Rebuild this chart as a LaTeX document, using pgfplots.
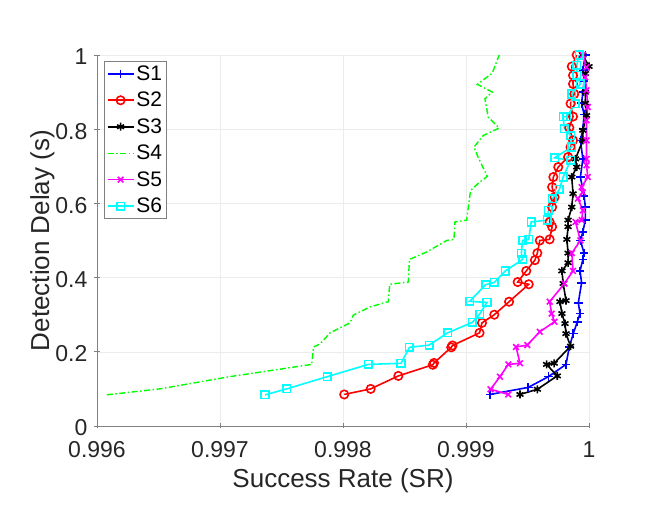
\documentclass[border=0pt]{standalone}
\usepackage{fontspec}
\setmainfont{Liberation Sans}
\usepackage{pgfplots}
\pgfplotsset{compat=1.18}
\definecolor{axgray}{RGB}{128,128,128}
\definecolor{txtgray}{RGB}{38,38,38}
\definecolor{mblue}{RGB}{0,0,255}
\definecolor{mred}{RGB}{255,0,0}
\definecolor{mgreen}{RGB}{0,255,0}
\definecolor{mmag}{RGB}{255,0,255}
\definecolor{mcyan}{RGB}{0,255,255}
\begin{document}
\begin{tikzpicture}
\path[use as bounding box] (0,0) rectangle (664pt,513pt);
\begin{axis}[
 at={(97pt,87pt)}, anchor=south west,
 width=492pt, height=371pt, scale only axis,
 xmin=0.996, xmax=1, ymin=0, ymax=1,
 xtick={0.996,0.997,0.998,0.999,1}, xticklabels={0.996,0.997,0.998,0.999,1},
 ytick={0,0.2,0.4,0.6,0.8,1}, yticklabels={0,0.2,0.4,0.6,0.8,1},
 scaled x ticks=false,
 axis lines=left, axis line style={-, draw=axgray, line width=0.6pt},
 grid=major, grid style={gray!15, line width=0.5pt},
 tick style={axgray, line width=0.6pt}, major tick length=5pt,
 tick label style={font=\fontsize{23}{23}\selectfont, text=txtgray},
 yticklabel style={inner sep=0pt, xshift=-7pt, yshift=-2pt},
 xticklabel style={inner sep=0pt, yshift=-13pt},
 xlabel={Success Rate (SR)}, ylabel={Detection Delay (s)},
 label style={font=\fontsize{26}{26}\selectfont, text=txtgray},
 xlabel style={at={(axis description cs:0.5,-0.148)}, anchor=center},
 ylabel style={at={(axis description cs:-0.111,0.5)}, anchor=center},
 legend style={at={(0.0142,0.984)}, anchor=north west, draw=axgray, line width=0.6pt,
   font=\fontsize{21}{21}\selectfont, row sep=6.3pt, inner sep=2.5pt, text=black},
 legend cell align=left,
 legend image code/.code={\draw[mark repeat=2,mark phase=2] plot coordinates {(0pt,0pt) (13pt,0pt) (26pt,0pt)};},
 every axis plot/.append style={line width=1.6pt},
]
% S1
\addplot[mblue, mark=+, mark size=4.3pt, mark options={solid}] coordinates {
(0.999195,0.085)(0.999506,0.104)(0.99967,0.133)(0.999813,0.166)(0.99984,0.213)
(0.999872,0.249)(0.999905,0.281)(0.999927,0.303)(0.999913,0.332)(0.99994,0.386)
(0.999927,0.418)(0.99995,0.449)(0.99996,0.466)(0.99993,0.500)(0.99995,0.523)
(0.99997,0.555)(0.99997,0.590)(0.99996,0.620)(0.99993,0.671)(0.99995,0.720)
(0.99993,0.770)(0.99995,0.800)(0.99996,0.840)(0.99994,0.870)(0.99995,0.900)
(0.99996,0.930)(0.99995,0.960)(0.99997,1.000)};
\addlegendentry{S1}
% S2
\addplot[mred, mark=o, mark size=4.2pt, mark options={solid}] coordinates {
(0.99801,0.085)(0.998225,0.100)(0.99845,0.135)(0.99873,0.165)(0.99874,0.170)
(0.99888,0.212)(0.99889,0.217)(0.99911,0.251)(0.99913,0.278)(0.99923,0.300)
(0.99935,0.335)(0.99951,0.382)(0.99942,0.388)(0.99949,0.418)(0.99956,0.447)
(0.99958,0.466)(0.99960,0.500)(0.99968,0.503)(0.99970,0.537)(0.99968,0.550)
(0.99970,0.590)(0.99972,0.617)(0.99970,0.644)(0.99971,0.671)(0.99975,0.698)
(0.99983,0.725)(0.99985,0.752)(0.99987,0.770)(0.99984,0.804)(0.99987,0.834)
(0.99985,0.869)(0.99988,0.895)(0.99987,0.922)(0.99987,0.945)(0.99986,0.969)
(0.99990,1.000)};
\addlegendentry{S2}
% S3
\addplot[black, mark=asterisk, mark size=4pt, mark options={solid}] coordinates {
(0.999439,0.085)(0.99958,0.099)(0.999742,0.135)(0.999655,0.166)(0.999717,0.169)
(0.99985,0.215)(0.999813,0.249)(0.999805,0.276)(0.99978,0.303)(0.999764,0.335)
(0.999813,0.338)(0.99979,0.384)(0.99978,0.418)(0.99983,0.440)(0.99983,0.466)
(0.99982,0.503)(0.99983,0.537)(0.99983,0.555)(0.99986,0.590)(0.99987,0.626)
(0.99986,0.671)(0.99990,0.698)(0.99989,0.720)(0.99995,0.770)(0.99995,0.797)
(0.99998,0.837)(0.99997,0.870)(0.99997,0.900)(0.99997,0.950)(1.00000,0.969)
(0.99995,1.000)};
\addlegendentry{S3}
% S4
\addplot[mgreen, no marks, line width=1.4pt, dash pattern=on 6pt off 2.5pt on 1.5pt off 2.5pt] coordinates {
(0.99608,0.084)(0.99651,0.100)(0.99708,0.133)(0.997746,0.166)(0.99776,0.213)
(0.997813,0.221)(0.997894,0.251)(0.998057,0.278)(0.998084,0.299)(0.99822,0.321)
(0.998368,0.335)(0.99838,0.382)(0.998531,0.388)(0.99854,0.449)(0.99868,0.469)
(0.998843,0.500)(0.998902,0.503)(0.99891,0.550)(0.999005,0.555)(0.999037,0.635)
(0.999114,0.658)(0.999173,0.673)(0.99910,0.723)(0.999065,0.752)(0.99914,0.783)
(0.99927,0.803)(0.99918,0.833)(0.999154,0.882)(0.999213,0.900)(0.999092,0.921)
(0.999213,0.951)(0.99927,1.000)};
\addlegendentry{S4}
% S5
\addplot[mmag, mark=x, mark size=4pt, mark options={solid}] coordinates {
(0.999344,0.085)(0.99920,0.099)(0.999276,0.133)(0.999344,0.166)(0.999439,0.169)
(0.999407,0.213)(0.999498,0.218)(0.99960,0.254)(0.99972,0.281)(0.999696,0.303)
(0.99968,0.335)(0.99980,0.384)(0.99987,0.418)(0.99986,0.466)(0.99993,0.500)
(0.99989,0.550)(0.99994,0.555)(0.99995,0.581)(0.99991,0.613)(0.99995,0.630)
(0.99994,0.644)(0.99999,0.671)(0.99998,0.703)(0.99998,0.720)(0.99998,0.770)
(0.99998,0.824)(0.99999,0.860)(0.99998,0.905)(0.99997,0.940)(0.99998,0.967)
(0.99995,1.000)};
\addlegendentry{S5}
% S6
\addplot[mcyan, mark=square, mark size=3.8pt, mark options={solid}] coordinates {
(0.997366,0.084)(0.997542,0.100)(0.997872,0.133)(0.998206,0.166)(0.998472,0.169)
(0.99854,0.212)(0.99870,0.218)(0.99885,0.251)(0.99905,0.279)(0.99911,0.301)
(0.99917,0.333)(0.99903,0.336)(0.99916,0.381)(0.99923,0.387)(0.99932,0.418)
(0.99946,0.449)(0.99945,0.466)(0.99946,0.500)(0.99951,0.503)(0.99953,0.550)
(0.99966,0.555)(0.99967,0.581)(0.99970,0.613)(0.99976,0.638)(0.99979,0.671)
(0.99985,0.716)(0.99972,0.723)(0.99986,0.752)(0.99985,0.783)(0.99980,0.801)
(0.99979,0.834)(0.99982,0.834)(0.99989,0.869)(0.99986,0.895)(0.99993,0.922)
(0.99990,0.945)(0.99990,0.972)(0.99992,1.000)};
\addlegendentry{S6}
\end{axis}
\end{tikzpicture}
\end{document}
